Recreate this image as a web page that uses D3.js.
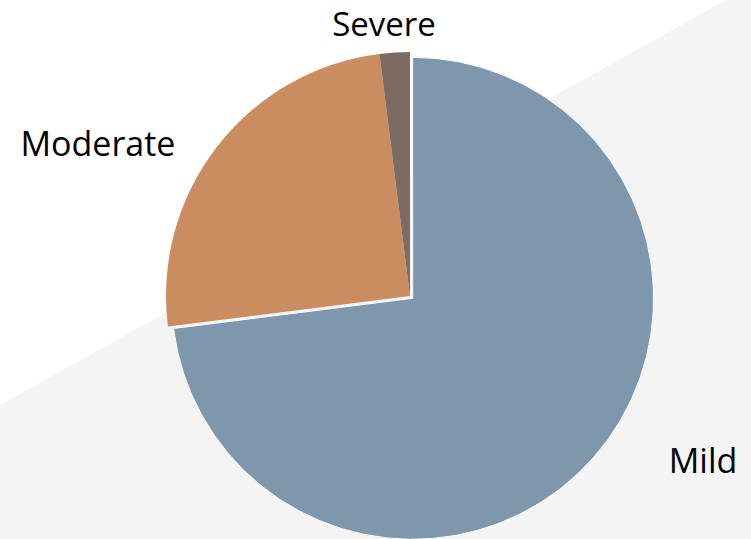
<!DOCTYPE html>
<html><head><meta charset="utf-8">
<script src="https://cdn.jsdelivr.net/npm/d3@7"></script>
<style>html,body{margin:0;padding:0;background:#fff;}svg{display:block;}</style>
</head><body>
<script>
const categories = ["Mild", "Moderate", "Severe"];
const values = [73, 25, 2];
const colors = ["#7f97ad", "#cb8c5f", "#7b6b62"];

const W = 751, H = 539;
const svg = d3.select("body").append("svg").attr("width", W).attr("height", H);

// background: light grey with white diagonal top-left
svg.append("rect").attr("width", W).attr("height", H).attr("fill", "#f4f4f4");
svg.append("path").attr("d", "M0,0 L726,0 L0,405 Z").attr("fill", "#ffffff");

const cx = 410, cy = 296, R = 244;
const data = categories.map((c, i) => ({name: c, value: values[i], color: colors[i]}));
const pie = d3.pie().sort(null).value(d => d.value);
const arcs = pie(data);
const g = svg.append("g").attr("transform", `translate(${cx},${cy})`);

arcs.forEach((a, i) => {
  const isMild = i === 0;
  const r = isMild ? 241 : R;
  const arc = d3.arc().innerRadius(0).outerRadius(r);
  let tx = 0, ty = 0;
  if (isMild) {
    const mid = (a.startAngle + a.endAngle) / 2;
    tx = Math.sin(mid) * 3.5; ty = -Math.cos(mid) * 3.5;
  }
  g.append("path").attr("d", arc(a)).attr("fill", a.data.color)
    .attr("transform", `translate(${tx},${ty})`)
    .attr("stroke", isMild ? "#ffffff" : "none").attr("stroke-width", isMild ? 1 : 0);
});

const labelPos = {Mild: [703, 473], Moderate: [98, 156], Severe: [384, 35.5]};
const labelSize = {Mild: 34, Moderate: 34, Severe: 33};
svg.selectAll("text.lbl").data(data).enter().append("text")
  .attr("class", "lbl")
  .attr("x", d => labelPos[d.name][0]).attr("y", d => labelPos[d.name][1])
  .attr("text-anchor", "middle")
  .attr("font-family", "'Open Sans', sans-serif").attr("font-size", d => labelSize[d.name])
  .attr("fill", "#000").text(d => d.name);
</script>
</body></html>
